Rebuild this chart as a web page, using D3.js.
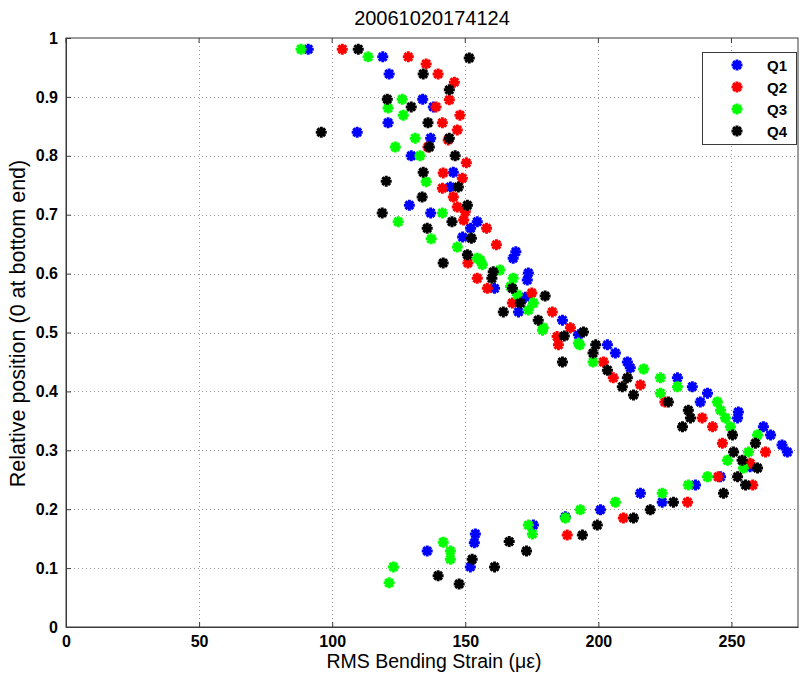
<!DOCTYPE html>
<html>
<head>
<meta charset="utf-8">
<script src="https://cdn.jsdelivr.net/npm/d3@7"></script>
<style>
  html, body { margin: 0; padding: 0; background: #fff; }
  svg { display: block; font-family: "Liberation Sans", Arial, sans-serif; }
</style>
</head>
<body>
<svg id="chart" width="800" height="675"></svg>
<script>
// RMS bending strain profiles along the riser, one series per quarter
const titleText = "20061020174124";
const xLabel = "RMS Bending Strain (\u03bc\u03b5)";
const yLabel = "Relative position (0 at bottom end)";
const xTicks = [0, 50, 100, 150, 200, 250];
const yTicks = [0, 0.1, 0.2, 0.3, 0.4, 0.5, 0.6, 0.7, 0.8, 0.9, 1];
const seriesNames = ["Q1", "Q2", "Q3", "Q4"];
const seriesColors = ["#0000ff", "#ff0000", "#00ff00", "#000000"];

// [strain, position]
const q1 = [
  [91, 0.981], [119, 0.968], [121.4, 0.939], [134, 0.896], [138, 0.883], [121, 0.856],
  [109.4, 0.840], [137, 0.830], [129.7, 0.800], [145.5, 0.772], [144.4, 0.747], [129, 0.716],
  [137, 0.703], [154.5, 0.688], [152, 0.677], [149, 0.662], [169, 0.637], [168, 0.626],
  [173.7, 0.601], [173.3, 0.589], [161, 0.575], [172.6, 0.560], [170, 0.535], [186.5, 0.521],
  [192.5, 0.496], [203.4, 0.479], [206.4, 0.465], [210.9, 0.450], [212, 0.440], [229.7, 0.423],
  [235.3, 0.408], [241, 0.397], [238.3, 0.382], [252.6, 0.365], [252.3, 0.355], [262, 0.340],
  [264.7, 0.326], [269, 0.309], [271, 0.297], [257, 0.272], [245.9, 0.255], [236.5, 0.241],
  [215.8, 0.227], [224, 0.212], [200.8, 0.199], [187.6, 0.187], [175.6, 0.173], [153.8, 0.158],
  [153.4, 0.143], [135.7, 0.129], [151.9, 0.102]
];
const q2 = [
  [103.8, 0.981], [128.6, 0.968], [135.3, 0.956], [139.8, 0.939], [145.9, 0.925], [144, 0.895],
  [139, 0.883], [148, 0.869], [141.4, 0.856], [147, 0.844], [143.6, 0.827], [136, 0.815],
  [150.4, 0.788], [141.7, 0.771], [148.9, 0.762], [141.4, 0.745], [145.5, 0.730], [147, 0.713],
  [150, 0.705], [149.4, 0.691], [158, 0.677], [161.7, 0.649], [151, 0.618], [154.5, 0.592],
  [158.3, 0.575], [175, 0.567], [167.7, 0.550], [182.7, 0.535], [189.5, 0.508], [184.5, 0.493],
  [185, 0.479], [201.9, 0.450], [205.6, 0.423], [215.8, 0.411], [225, 0.382], [239, 0.355],
  [242.9, 0.340], [246.6, 0.312], [262.8, 0.297], [257, 0.278], [245, 0.255], [258, 0.241],
  [233.5, 0.212], [209.4, 0.185], [188.3, 0.156]
];
const q3 = [
  [88.3, 0.981], [113.5, 0.968], [126.3, 0.896], [121, 0.881], [126.7, 0.869], [131.2, 0.830],
  [123.7, 0.815], [133, 0.800], [135.3, 0.756], [141.4, 0.703], [124.8, 0.688], [137.2, 0.659],
  [147, 0.645], [154.5, 0.626], [155.6, 0.623], [156.4, 0.615], [163, 0.606], [168, 0.592],
  [167, 0.578], [169.5, 0.564], [175.6, 0.550], [173.7, 0.538], [179.3, 0.508], [179, 0.504],
  [192.5, 0.482], [193, 0.479], [198, 0.450], [217, 0.438], [223.3, 0.423], [229.7, 0.408],
  [223.3, 0.397], [244.7, 0.382], [245.9, 0.368], [247.7, 0.355], [249.6, 0.340], [259.8, 0.326],
  [256.4, 0.297], [248.5, 0.283], [254.5, 0.270], [241, 0.255], [233.8, 0.241], [224, 0.227],
  [206.4, 0.212], [193.2, 0.199], [187.6, 0.185], [173.7, 0.173], [175.2, 0.158], [141.7, 0.144],
  [144.4, 0.129], [144.4, 0.115], [123, 0.102], [121.4, 0.075]
];
const q4 = [
  [109.8, 0.981], [151.5, 0.966], [134.2, 0.939], [144, 0.912], [120.7, 0.896], [129.7, 0.883],
  [136, 0.856], [95.9, 0.840], [144, 0.830], [136.5, 0.815], [146.2, 0.800], [134.2, 0.772],
  [120.3, 0.757], [147.4, 0.747], [133.8, 0.730], [150.8, 0.716], [118.8, 0.703], [145, 0.688],
  [135.7, 0.677], [152.3, 0.660], [150.8, 0.632], [141.7, 0.618], [160.5, 0.603], [160, 0.592],
  [167.7, 0.575], [180, 0.562], [170.7, 0.550], [164.3, 0.535], [177.4, 0.521], [194.4, 0.501],
  [187.2, 0.494], [199, 0.479], [198, 0.465], [186.5, 0.450], [203.4, 0.436], [210.9, 0.423],
  [209, 0.408], [213.2, 0.394], [226.3, 0.382], [233.8, 0.368], [234.6, 0.355], [231.6, 0.340],
  [250.4, 0.326], [259, 0.312], [250.8, 0.297], [254, 0.283], [259.8, 0.270], [252.3, 0.255],
  [255.3, 0.241], [247, 0.227], [228.2, 0.212], [219.5, 0.199], [213.2, 0.185], [199.6, 0.173],
  [194, 0.156], [166.5, 0.145], [173, 0.129], [152.6, 0.115], [161, 0.102], [139.8, 0.087],
  [147.7, 0.073]
];
const seriesData = [q1, q2, q3, q4];

const svg = d3.select("#chart");
const margin = { left: 66, right: 2, top: 38, bottom: 48 };
const W = 800, H = 675;
const x = d3.scaleLinear().domain([0, 275]).range([margin.left, W - margin.right]);
const y = d3.scaleLinear().domain([0, 1]).range([H - margin.bottom, margin.top]);

// dotted grid
const grid = svg.append("g").attr("stroke", "#9a9a9a").attr("stroke-width", 1)
  .attr("stroke-dasharray", "1,3").attr("shape-rendering", "crispEdges");
grid.selectAll("line.gx").data(xTicks.filter(t => t > 0)).join("line")
  .attr("x1", d => Math.round(x(d)) + 0.5).attr("x2", d => Math.round(x(d)) + 0.5)
  .attr("y1", y(1)).attr("y2", y(0));
grid.selectAll("line.gy").data(yTicks.filter(t => t > 0 && t < 1)).join("line")
  .attr("y1", d => Math.round(y(d)) + 0.5).attr("y2", d => Math.round(y(d)) + 0.5)
  .attr("x1", x(0)).attr("x2", x(275));

// axes with inward ticks
const xAxis = d3.axisBottom(x).tickValues(xTicks).tickSizeInner(-5).tickSizeOuter(0).tickPadding(9);
const yAxis = d3.axisLeft(y).tickValues(yTicks).tickSizeInner(-5).tickSizeOuter(0).tickPadding(8)
  .tickFormat(d => d3.format("")(+d.toFixed(1)));
const gx = svg.append("g").attr("transform", `translate(0,${y(0)})`).call(xAxis);
const gy = svg.append("g").attr("transform", `translate(${x(0)},0)`).call(yAxis);
[gx, gy].forEach(g => {
  g.selectAll("path, line").attr("stroke", "#3a3a3a");
  g.selectAll("text").attr("fill", "#000").attr("font-size", 16).attr("font-weight", "bold");
});
// top ticks
svg.append("g").selectAll("line").data(xTicks).join("line")
  .attr("x1", d => x(d)).attr("x2", d => x(d)).attr("y1", y(1)).attr("y2", y(1) + 5)
  .attr("stroke", "#3a3a3a");
// frame
svg.append("rect").attr("x", x(0)).attr("y", y(1))
  .attr("width", x(275) - x(0)).attr("height", y(0) - y(1))
  .attr("fill", "none").attr("stroke", "#3a3a3a").attr("stroke-width", 1);

// asterisk marker
function asterisk(r) {
  const a = r * Math.SQRT1_2;
  return `M${-r},0L${r},0M0,${-r}L0,${r}M${-a},${-a}L${a},${a}M${-a},${a}L${a},${-a}`;
}
const markerPath = asterisk(5.5);

const marks = svg.append("g");
seriesData.forEach((data, i) => {
  marks.append("g").selectAll("path").data(data).join("path")
    .attr("d", markerPath)
    .attr("transform", d => `translate(${x(d[0])},${y(d[1])})`)
    .attr("stroke", seriesColors[i]).attr("stroke-width", 3)
    .attr("fill", "none");
});

// title and labels
svg.append("text").attr("x", (x(0) + x(275)) / 2).attr("y", 25).attr("text-anchor", "middle")
  .attr("font-size", 20).text(titleText);
svg.append("text").attr("x", (x(0) + x(275)) / 2 + 2).attr("y", 668).attr("text-anchor", "middle")
  .attr("font-size", 19.5).text(xLabel);
svg.append("text").attr("transform", `translate(25,${(y(0) + y(1)) / 2 - 9}) rotate(-90)`)
  .attr("text-anchor", "middle").attr("font-size", 21.5).text(yLabel);

// legend
const lg = svg.append("g");
lg.append("rect").attr("x", 702.5).attr("y", 52.5).attr("width", 94).attr("height", 92)
  .attr("fill", "#fff").attr("stroke", "#3a3a3a");
seriesNames.forEach((name, i) => {
  const cy = 65 + i * 22;
  lg.append("path").attr("d", markerPath).attr("transform", `translate(737,${cy})`)
    .attr("stroke", seriesColors[i]).attr("stroke-width", 3).attr("fill", "none");
  lg.append("text").attr("x", 767).attr("y", cy + 5.5).attr("font-size", 15)
    .attr("font-weight", "bold").text(name);
});
</script>
</body>
</html>
